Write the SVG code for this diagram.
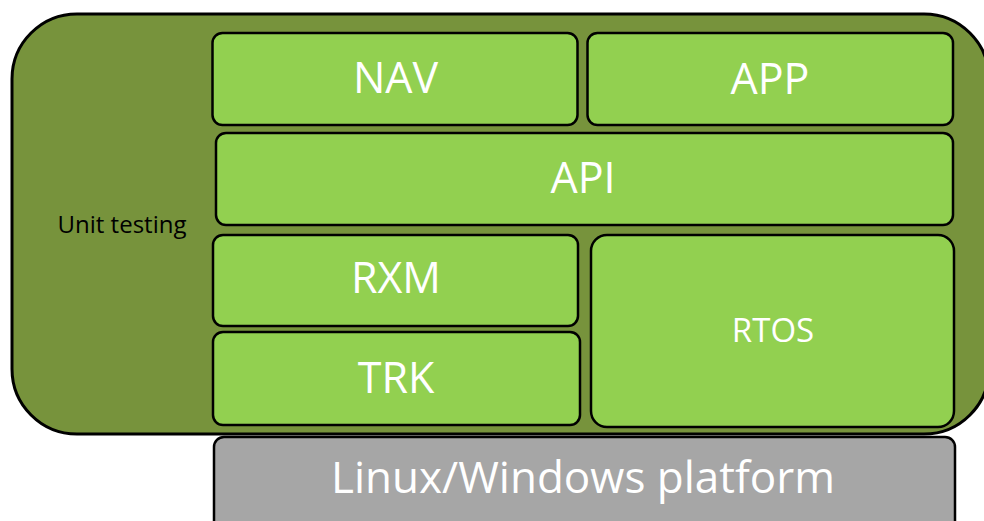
<svg xmlns="http://www.w3.org/2000/svg" width="984" height="521" viewBox="0 0 984 521">
  <style>
    .frame { fill: #77933C; stroke: #000; stroke-width: 3; }
    .layer { fill: #92D050; stroke: #000; stroke-width: 2.5; }
    .platform { fill: #A6A6A6; stroke: #000; stroke-width: 2.5; }
    .big { font-family: "Open Sans", "Liberation Sans", sans-serif; font-size: 43px; fill: #fff; text-anchor: middle; }
    .mid { font-family: "Open Sans", "Liberation Sans", sans-serif; font-size: 33px; fill: #fff; text-anchor: middle; }
    .small { font-family: "Open Sans", "Liberation Sans", sans-serif; font-size: 24px; fill: #000; text-anchor: middle; }
  </style>
  <rect width="984" height="521" fill="#fff"/>

  <!-- unit-testing frame wrapping the software stack -->
  <g id="unit-testing">
    <rect class="frame" x="12" y="14" width="977" height="420" rx="65" ry="65"/>
    <text class="small" x="122" y="233">Unit testing</text>
  </g>

  <g id="nav">
    <rect class="layer" x="212.5" y="33" width="365" height="92" rx="10"/>
    <text class="big" x="395.5" y="93">NAV</text>
  </g>

  <g id="app">
    <rect class="layer" x="587.5" y="33" width="365.5" height="92" rx="10"/>
    <text class="big" x="770" y="94">APP</text>
  </g>

  <g id="api">
    <rect class="layer" x="216" y="133" width="737" height="92" rx="10"/>
    <text class="big" x="583" y="193">API</text>
  </g>

  <g id="rxm">
    <rect class="layer" x="213" y="235" width="365" height="91" rx="10"/>
    <text class="big" x="396" y="293">RXM</text>
  </g>

  <g id="trk">
    <rect class="layer" x="213" y="332" width="367" height="93" rx="10"/>
    <text class="big" x="396" y="393">TRK</text>
  </g>

  <g id="rtos">
    <rect class="layer" x="591" y="235" width="363" height="192" rx="16"/>
    <text class="mid" x="773" y="342">RTOS</text>
  </g>

  <g id="platform">
    <rect class="platform" x="214" y="437" width="741" height="100" rx="10"/>
    <text class="big" x="583" y="493" style="font-size:44px">Linux/Windows platform</text>
  </g>

  <g id="connectors"/>
</svg>
